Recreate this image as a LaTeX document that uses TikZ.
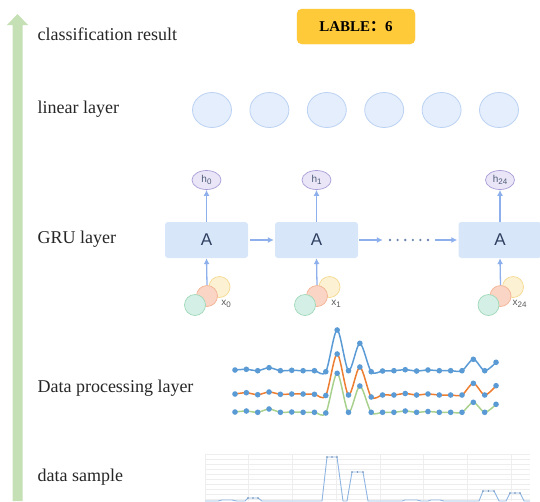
\documentclass[tikz,border=0pt]{standalone}
\usepackage{fontspec}
\setmainfont{Liberation Serif}
\setsansfont{Liberation Sans}
\newfontfamily\cjk{Noto Sans CJK SC}
\usetikzlibrary{arrows.meta}
\usetikzlibrary{shapes.geometric}
\tikzset{>={Latex[width=2.1mm,length=2.1mm]}}
\definecolor{flowgreen}{HTML}{C5E0B4}
\definecolor{labelgold}{HTML}{FFCA3A}
\definecolor{linfill}{HTML}{E4EEFC}
\definecolor{linedge}{HTML}{BCD2F3}
\definecolor{cellfill}{HTML}{D8E6FA}
\definecolor{celltext}{HTML}{2E3F60}
\definecolor{arrowblue}{HTML}{8DB0EC}
\definecolor{hfill}{HTML}{EAE6F8}
\definecolor{hedge}{HTML}{A89DD6}
\definecolor{inteal}{HTML}{D4F0E6}
\definecolor{intealedge}{HTML}{9FD8B8}
\definecolor{inorange}{HTML}{FAD4C4}
\definecolor{inorangeedge}{HTML}{F2B393}
\definecolor{inyellow}{HTML}{FDF1D3}
\definecolor{inyellowedge}{HTML}{F4D98F}
\definecolor{seriesblue}{HTML}{5B9BD5}
\definecolor{seriesorange}{HTML}{ED7D31}
\definecolor{seriesgreen}{HTML}{A9D18E}
\definecolor{sampleblue}{HTML}{8DB4E2}
\definecolor{gridgray}{HTML}{EEEEEE}
\newcommand{\lowidx}[1]{\raisebox{-1.6pt}{\fontsize{8}{8}\selectfont #1}}

\begin{document}
\begin{tikzpicture}[x=1pt,y=-1pt,
  layertext/.style={anchor=west,text=black!85,font=\fontsize{18}{20}\selectfont},
  neuron/.style={ellipse,draw=linedge,fill=linfill,line width=0.8pt,minimum width=39pt,minimum height=35pt},
  cell/.style={fill=cellfill,rounded corners=3pt,minimum width=83pt,minimum height=36pt,
    text=celltext,font=\sffamily\fontsize{17}{18}\selectfont},
  hstate/.style={ellipse,draw=hedge,fill=hfill,line width=0.7pt,minimum width=29pt,minimum height=19pt,
    inner sep=0pt,text=celltext!85,font=\sffamily\fontsize{10}{10}\selectfont},
  inball/.style={circle,line width=0.7pt,minimum size=21pt,inner sep=0pt},
  flow/.style={->,draw=arrowblue,line width=1.3pt},
  series/.style={line width=1.5pt,mark=*,mark size=2pt,mark options={draw=seriesblue,fill=seriesblue}}]
  \useasboundingbox (0,0) rectangle (540,501);
  % Draw the upward arrow on the left
  \fill[flowgreen] (12.5,501) -- (12.5,25) -- (7,25) -- (17.5,14) -- (28,25) -- (22.5,25) -- (22.5,501) -- cycle;
  % Draw layer names
  \node[layertext] (nameResult) at (34,34) {classification result};
  \node[layertext] (nameLinear) at (34,109) {linear layer};
  \node[layertext] (nameGru) at (34,239) {GRU layer};
  \node[layertext] (nameProc) at (34,388) {Data processing layer};
  \node[layertext] (nameSample) at (34,477) {data sample};
  % Draw result box
  \node[fill=labelgold,draw=labelgold!90!orange,rounded corners=5pt,minimum width=118pt,minimum height=35pt,
    font=\bfseries\fontsize{15}{16}\selectfont] (result) at (356,26.5) {LABLE{\cjk ：}6};
  % Draw linear layer
  \foreach \i in {0,...,5}
    \node[neuron] (lin\i) at ({212+57.4*\i},110) {};
  % Draw GRU cells, hidden states and inputs
  \foreach \c/\xc/\lab in {0/206.5/0,1/316.5/1,2/500/24} {
    \node[cell] (cell\c) at (\xc,240) {A};
    \node[hstate] (h\c) at (\xc,180) {h\lowidx{\lab}};
    \node[inball,draw=inyellowedge,fill=inyellow] (yel\c) at (\xc+13,287) {};
    \node[inball,draw=inorangeedge,fill=inorange] (org\c) at (\xc+0.5,296) {};
    \node[inball,draw=intealedge,fill=inteal] (grn\c) at (\xc-11.5,305) {};
    \node[text=black!65,font=\sffamily\fontsize{10}{10}\selectfont] (x\c) at (\xc+19.5,304) {x\lowidx{\lab}};
    \draw[flow] (org\c.north) -- (cell\c.south);
    \draw[flow] (cell\c.north) -- (h\c.south); }
  \node[minimum width=52pt,minimum height=6pt,inner sep=0pt] (dots) at (409,240) {};
  \foreach \k in {0,...,5}
    \fill[arrowblue!75!black] ({390+7.6*\k},240) circle (1.3pt);
  \draw[flow,shorten <=2pt,shorten >=1pt] (cell0) -- (cell1);
  \draw[flow,shorten <=1pt] (cell1) -- (dots);
  \draw[flow,shorten >=1pt] (dots) -- (cell2);
  % Draw processed series
  \draw[series,seriesblue] plot[smooth] coordinates {(235,370) (246.35,369.3) (257.7,370.7) (269.05,367.7)
    (280.4,370.7) (291.75,370.3) (303.1,370.7) (314.45,370.7) (325.8,371.7) (337.15,330) (348.5,370.7)
    (359.85,343.3) (371.2,371.7) (382.55,371) (393.9,370.7) (405.25,369.7) (416.6,371) (427.95,370)
    (439.3,370.7) (450.65,370.7) (462,370.7) (473.35,359.3) (484.7,370.7) (496.05,362.3)};
  \draw[series,seriesorange] plot[smooth] coordinates {(235,394) (246.35,392.7) (257.7,394.7) (269.05,392)
    (280.4,394.3) (291.75,394) (303.1,394) (314.45,394.3) (325.8,395.5) (337.15,354) (348.5,395)
    (359.85,367) (371.2,397) (382.55,395) (393.9,395) (405.25,393.5) (416.6,395) (427.95,394)
    (439.3,395) (450.65,395) (462,395) (473.35,383.3) (484.7,395) (496.05,385.7)};
  \draw[series,seriesgreen] plot[smooth] coordinates {(235,412) (246.35,411) (257.7,412.3) (269.05,409)
    (280.4,412.3) (291.75,412) (303.1,412.3) (314.45,412.3) (325.8,413) (337.15,373.3) (348.5,412.3)
    (359.85,386) (371.2,412.3) (382.55,412.3) (393.9,412.3) (405.25,411) (416.6,412.3) (427.95,411.5)
    (439.3,412.3) (450.65,412.3) (462,412.3) (473.35,402.3) (484.7,412.3) (496.05,404.3)};
  % Draw sample grid and curve
  \foreach \y in {454,459,...,501}
    \draw[gridgray,line width=0.5pt] (205,\y) -- (530,\y);
  \foreach \k in {0,...,7}
    \draw[gridgray,line width=0.5pt] ({205+43.7*\k},454) -- ({205+43.7*\k},501);
  \draw[sampleblue,line width=0.9pt] (205,501) -- (218,501) -- (222,500) -- (232,500) -- (237,501) -- (245,501)
    -- (248,498) -- (258,498) -- (262,501) -- (322,501) -- (327,457) -- (337,457) -- (343,501) -- (347,501)
    -- (352,472) -- (363,472) -- (368,501) -- (402,501) -- (405,500) -- (417,500) -- (421,501) -- (428,501)
    -- (431,500) -- (440,500) -- (444,501) -- (479,501) -- (483,491) -- (494,491) -- (499,501) -- (506,501)
    -- (510,493) -- (520,493) -- (524,501) -- (530,501);
  \foreach \px/\py in {327/457,332/457,337/457,352/472,357.5/472,363/472,483/491,488.5/491,494/491,
      510/493,515/493,520/493,248/498,253/498,258/498}
    \fill[sampleblue!80!black] (\px,\py) circle (0.9pt);
\end{tikzpicture}
\end{document}
